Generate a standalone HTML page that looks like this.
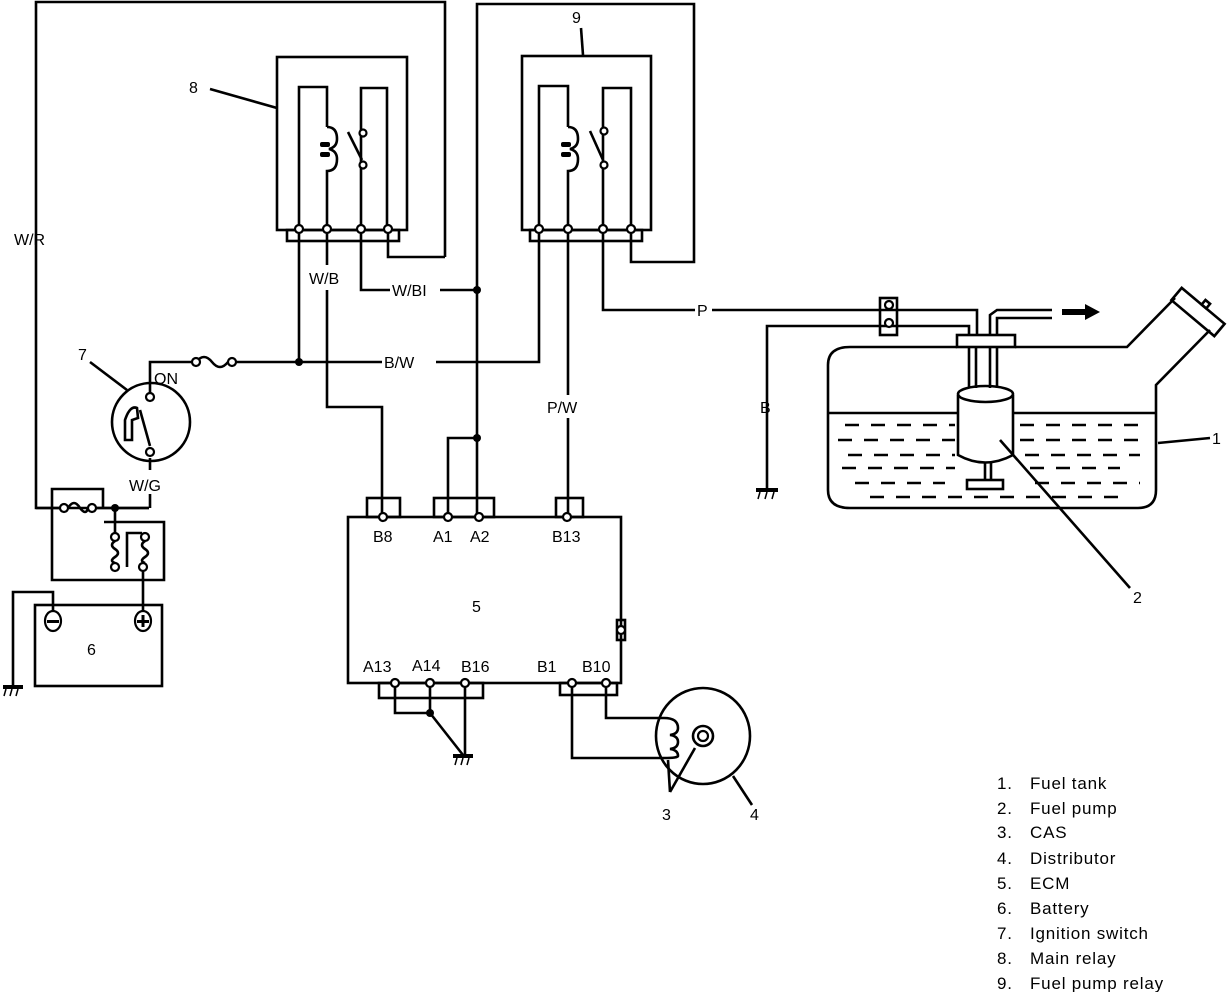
<!DOCTYPE html>
<html><head><style>
body{margin:0;background:#fff}
svg{display:block}
text{font-family:"Liberation Sans",sans-serif;fill:#000}
</style></head><body>
<svg width="1232" height="992" viewBox="0 0 1232 992" xmlns="http://www.w3.org/2000/svg">
<g fill="none" stroke="#000" stroke-width="2.6">
<polyline points="445,257 445,2 36,2 36,508 149,508"/>
<polyline points="445,257 388,257 388,232"/>
<polyline points="477,517 477,4 694,4 694,262 631,262 631,232"/>
<rect x="277" y="57" width="130" height="173"/>
<rect x="287" y="230" width="112" height="11"/>
<polyline points="299,230 299,87 327,87 327,127"/>
<path d="M327,127 q10,0 10,12 q0,8 -8,10 q8,2 8,10 q0,12 -10,12 L327,230"/>
<polyline points="361,230 361,88 387,88 387,230"/>
<line x1="348" y1="132" x2="362" y2="160"/>
<rect x="522" y="56" width="129" height="174"/>
<rect x="530" y="230" width="112" height="11"/>
<polyline points="539,230 539,86 568,86 568,127"/>
<path d="M568,127 q10,0 10,12 q0,8 -8,10 q8,2 8,10 q0,12 -10,12 L568,230"/>
<polyline points="603,230 603,88 631,88 631,230"/>
<line x1="590" y1="131" x2="603" y2="160"/>
<line x1="210" y1="89" x2="277" y2="108"/>
<line x1="581" y1="28" x2="583" y2="55"/>
<line x1="299" y1="232" x2="299" y2="362"/>
<polyline points="327,232 327,265"/>
<polyline points="327,290 327,407 382,407 382,515"/>
<polyline points="361,232 361,290 390,290"/>
<line x1="440" y1="290" x2="477" y2="290"/>
<polyline points="150,395 150,362 196,362"/>
<path d="M196,362 q8,-10 16,0 q8,10 16,0"/>
<line x1="232" y1="362" x2="382" y2="362"/>
<polyline points="436,362 539,362 539,232"/>
<polyline points="603,232 603,310 695,310"/>
<polyline points="712,310 977,310 977,335"/>
<polyline points="767,490 767,326 969,326 969,335"/>
<rect x="880" y="298" width="17" height="37"/>
<line x1="568" y1="232" x2="568" y2="395"/>
<line x1="568" y1="418" x2="568" y2="515"/>
<polyline points="448,515 448,438 477,438"/>
<rect x="348" y="517" width="273" height="166"/>
<rect x="367" y="498" width="33" height="19"/>
<rect x="434" y="498" width="60" height="19"/>
<rect x="556" y="498" width="27" height="19"/>
<rect x="379" y="683" width="104" height="15"/>
<rect x="560" y="683" width="57" height="12"/>
<rect x="617" y="620" width="8" height="20"/>
<polyline points="395,683 395,713 430,713"/>
<line x1="430" y1="683" x2="430" y2="713"/>
<line x1="430" y1="713" x2="463" y2="755"/>
<line x1="465" y1="683" x2="465" y2="755"/>
<polyline points="572,683 572,758 664,758"/>
<polyline points="606,683 606,718 664,718"/>
<ellipse cx="703" cy="736" rx="47" ry="48"/>
<path d="M664,718 q14,0 14,10 q0,6 -8,7 q8,1 8,7 q0,6 -8,7 q8,1 8,7 q0,2 -14,2"/>
<circle cx="703" cy="736" r="10"/>
<line x1="670" y1="792" x2="695" y2="748"/>
<line x1="670" y1="792" x2="668" y2="760"/>
<line x1="733" y1="776" x2="752" y2="805"/>
<circle cx="151" cy="422" r="39"/>
<path d="M125,440 L125,420 Q130,405 137,408 L138,418 L132,420 L132,440 Z"/>
<line x1="140" y1="410" x2="150" y2="446"/>
<line x1="150" y1="458" x2="150" y2="470"/>
<line x1="150" y1="494" x2="150" y2="508"/>
<line x1="90" y1="362" x2="127" y2="390"/>
<polyline points="52,508 52,489 103,489 103,508"/>
<line x1="36" y1="508" x2="60" y2="508"/>
<path d="M68,508 q6,-10 12,0 q6,8 8,0"/>
<line x1="96" y1="508" x2="149" y2="508"/>
<polyline points="52,508 52,580 164,580 164,522 104,522"/>
<line x1="115" y1="508" x2="115" y2="533"/>
<path d="M115,541 q-6,4 0,8 q6,4 0,8 q-6,4 0,6"/>
<polyline points="127,567 127,533 142,533"/>
<path d="M145,541 q-6,4 0,8 q6,4 0,8 q-6,4 0,6"/>
<line x1="143" y1="571" x2="143" y2="612"/>
<rect x="35" y="605" width="127" height="81"/>
<polyline points="53,613 53,592 13,592 13,685"/>
<path d="M957,347 L850,347 Q828,347 828,365 L828,490 Q828,508 850,508 L1138,508 Q1156,508 1156,490 L1156,385 L1210,330"/>
<path d="M1015,347 L1127,347 L1175,298"/>
<g transform="translate(1198,312) rotate(40)"><rect x="-28" y="-8" width="56" height="16"/><rect x="-2" y="-14" width="6" height="6"/></g>
<line x1="828" y1="413" x2="958" y2="413"/>
<line x1="1013" y1="413" x2="1156" y2="413"/>
<rect x="957" y="335" width="58" height="12"/>
<line x1="969" y1="347" x2="969" y2="388"/><line x1="976" y1="347" x2="976" y2="388"/>
<line x1="990" y1="347" x2="990" y2="388"/><line x1="997" y1="347" x2="997" y2="388"/>
<polyline points="990,335 990,315 997,310 1052,310"/>
<polyline points="997,335 997,318 1052,318"/>
<path d="M958,395 L958,455 Q985,470 1013,455 L1013,395"/>
<ellipse cx="985.5" cy="394" rx="27.5" ry="8"/>
<line x1="985" y1="462" x2="985" y2="480"/><line x1="991" y1="462" x2="991" y2="480"/>
<rect x="967" y="480" width="36" height="9"/>
<line x1="1158" y1="443" x2="1210" y2="438"/>
<line x1="1000" y1="440" x2="1130" y2="588"/>
</g>
<g stroke="#000" stroke-width="2.6" stroke-dasharray="14,12" fill="none">
<line x1="845" y1="425" x2="955" y2="425"/><line x1="1020" y1="425" x2="1150" y2="425"/>
<line x1="838" y1="440" x2="955" y2="440"/><line x1="1020" y1="440" x2="1150" y2="440"/>
<line x1="848" y1="455" x2="955" y2="455"/><line x1="1025" y1="455" x2="1140" y2="455"/>
<line x1="842" y1="468" x2="955" y2="468"/><line x1="1030" y1="468" x2="1120" y2="468"/>
<line x1="855" y1="483" x2="945" y2="483"/><line x1="1035" y1="483" x2="1140" y2="483"/>
<line x1="870" y1="497" x2="1120" y2="497"/>
</g>
<path d="M1062,309 L1085,309 L1085,304 L1100,312 L1085,320 L1085,315 L1062,315 Z" fill="#000"/>
<g fill="#fff" stroke="#000" stroke-width="2.2">
<circle cx="299" cy="229" r="4"/><circle cx="327" cy="229" r="4"/><circle cx="361" cy="229" r="4"/><circle cx="388" cy="229" r="4"/>
<circle cx="539" cy="229" r="4"/><circle cx="568" cy="229" r="4"/><circle cx="603" cy="229" r="4"/><circle cx="631" cy="229" r="4"/>
<circle cx="363" cy="133" r="3.5"/><circle cx="363" cy="165" r="3.5"/>
<circle cx="604" cy="131" r="3.5"/><circle cx="604" cy="165" r="3.5"/>
<circle cx="196" cy="362" r="4"/><circle cx="232" cy="362" r="4"/>
<circle cx="150" cy="397" r="4"/><circle cx="150" cy="452" r="4"/>
<circle cx="64" cy="508" r="4"/><circle cx="92" cy="508" r="4"/>
<circle cx="115" cy="537" r="4"/><circle cx="115" cy="567" r="4"/><circle cx="145" cy="537" r="4"/><circle cx="143" cy="567" r="4"/>
<circle cx="383" cy="517" r="4"/><circle cx="448" cy="517" r="4"/><circle cx="479" cy="517" r="4"/><circle cx="567" cy="517" r="4"/>
<circle cx="395" cy="683" r="4"/><circle cx="430" cy="683" r="4"/><circle cx="465" cy="683" r="4"/><circle cx="572" cy="683" r="4"/><circle cx="606" cy="683" r="4"/>
<circle cx="621" cy="630" r="4"/>
<circle cx="889" cy="305" r="4"/><circle cx="889" cy="323" r="4"/>
<ellipse cx="53" cy="621" rx="8" ry="10"/><ellipse cx="143" cy="621" rx="8" ry="10"/>
<circle cx="703" cy="736" r="5"/>
</g>
<g fill="#000">
<circle cx="299" cy="362" r="4"/><circle cx="477" cy="290" r="4"/><circle cx="477" cy="438" r="4"/><circle cx="115" cy="508" r="4"/><circle cx="430" cy="713" r="4"/>
<rect x="47" y="620" width="12" height="3"/><rect x="137" y="620" width="12" height="3"/><rect x="141.5" y="615" width="3" height="12"/>
<rect x="320" y="142" width="10" height="5" rx="2"/><rect x="320" y="152" width="10" height="5" rx="2"/>
<rect x="561" y="142" width="10" height="5" rx="2"/><rect x="561" y="152" width="10" height="5" rx="2"/>
<rect x="3" y="685" width="20" height="4"/><rect x="453" y="754" width="20" height="4"/><rect x="756" y="488" width="22" height="4"/>
</g>
<g stroke="#000" stroke-width="1.5">
<line x1="6" y1="689" x2="4" y2="696"/><line x1="12" y1="689" x2="10" y2="696"/><line x1="18" y1="689" x2="16" y2="696"/>
<line x1="457" y1="758" x2="455" y2="765"/><line x1="463" y1="758" x2="461" y2="765"/><line x1="469" y1="758" x2="467" y2="765"/>
<line x1="760" y1="492" x2="758" y2="499"/><line x1="767" y1="492" x2="765" y2="499"/><line x1="774" y1="492" x2="772" y2="499"/>
</g>
<g font-size="16">
<text x="14" y="245">W/R</text>
<text x="189" y="93">8</text>
<text x="572" y="23">9</text>
<text x="309" y="284">W/B</text>
<text x="392" y="296">W/BI</text>
<text x="384" y="368">B/W</text>
<text x="697" y="316">P</text>
<text x="547" y="413">P/W</text>
<text x="760" y="413">B</text>
<text x="78" y="360">7</text>
<text x="154" y="384">ON</text>
<text x="129" y="491">W/G</text>
<text x="87" y="655">6</text>
<text x="472" y="612">5</text>
<text x="373" y="542">B8</text>
<text x="433" y="542">A1</text>
<text x="470" y="542">A2</text>
<text x="552" y="542">B13</text>
<text x="363" y="672">A13</text>
<text x="412" y="671">A14</text>
<text x="461" y="672">B16</text>
<text x="537" y="672">B1</text>
<text x="582" y="672">B10</text>
<text x="662" y="820">3</text>
<text x="750" y="820">4</text>
<text x="1212" y="444">1</text>
<text x="1133" y="603">2</text>
</g>
<g font-size="17" letter-spacing="0.8">
<text x="997" y="789">1.</text><text x="1030" y="789">Fuel tank</text>
<text x="997" y="814">2.</text><text x="1030" y="814">Fuel pump</text>
<text x="997" y="838">3.</text><text x="1030" y="838">CAS</text>
<text x="997" y="864">4.</text><text x="1030" y="864">Distributor</text>
<text x="997" y="889">5.</text><text x="1030" y="889">ECM</text>
<text x="997" y="914">6.</text><text x="1030" y="914">Battery</text>
<text x="997" y="939">7.</text><text x="1030" y="939">Ignition switch</text>
<text x="997" y="964">8.</text><text x="1030" y="964">Main relay</text>
<text x="997" y="989">9.</text><text x="1030" y="989">Fuel pump relay</text>
</g>
</svg>
</body></html>
